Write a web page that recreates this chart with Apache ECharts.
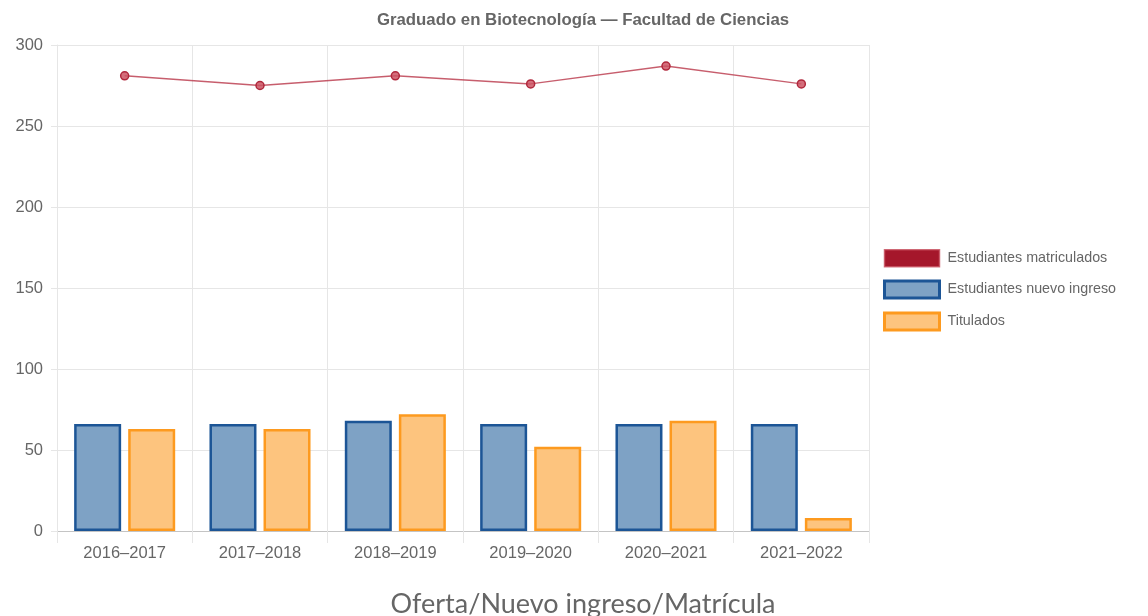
<!DOCTYPE html>
<html>
<head>
<meta charset="utf-8">
<script src="https://cdn.jsdelivr.net/npm/echarts@6/dist/echarts.min.js"></script>
<style>
html,body{margin:0;padding:0;background:#fff;}
#chart{width:1148px;height:616px;}
</style>
</head>
<body>
<div id="chart"></div>
<script>
const categories = ['2016–2017','2017–2018','2018–2019','2019–2020','2020–2021','2021–2022'];
const matriculados = [281, 275, 281, 276, 287, 276];
const nuevoIngreso = [66, 66, 68, 66, 66, 66];
const titulados = [63, 63, 72, 52, 68, 8];
const yTicks = [0, 50, 100, 150, 200, 250, 300];
const seriesNames = ['Estudiantes matriculados','Estudiantes nuevo ingreso','Titulados'];
const titleText = 'Graduado en Biotecnología — Facultad de Ciencias';
const footerText = 'Oferta/Nuevo ingreso/Matrícula';

const chart = echarts.init(document.getElementById('chart'), null, {renderer:'canvas'});
const txt = '#666';
const gridC = '#e6e6e6';
const ff = 'Liberation Sans, Arial, sans-serif';
chart.setOption({
  animation:false,
  title:{
    text:titleText,
    left:583, top:12, textAlign:'center', padding:0,
    textStyle:{fontFamily:ff, fontSize:16.8, fontWeight:'bold', color:txt}
  },
  graphic:[{
    type:'text', x:583, y:591,
    style:{text:footerText, font:'27px Lato', fill:'#666', align:'center', textAlign:'center'}
  }],
  legend:{
    orient:'vertical', left:883, top:249, padding:0, itemWidth:55, itemHeight:17, itemGap:12,
    textStyle:{fontFamily:ff, fontSize:14.3, color:txt, padding:[0,0,0,3]},
    data:[
      {name:seriesNames[0], icon:'rect', itemStyle:{color:'#a5172b', borderColor:'rgba(200,80,95,0.8)', borderWidth:1.5}},
      {name:seriesNames[1], icon:'rect', itemStyle:{color:'#7ea2c5', borderColor:'#1c5596', borderWidth:3}},
      {name:seriesNames[2], icon:'rect', itemStyle:{color:'#fdc47e', borderColor:'#fd9a1f', borderWidth:3}}
    ]
  },
  grid:{left:57, right:279, top:45, bottom:85},
  xAxis:{
    type:'category', data:categories, boundaryGap:true,
    axisLine:{show:true, lineStyle:{color:'#c4c4c4', width:1}},
    axisTick:{show:true, length:12, lineStyle:{color:gridC}},
    axisLabel:{fontFamily:ff, fontSize:16.5, color:txt, margin:14},
    splitLine:{show:true, lineStyle:{color:gridC}}
  },
  yAxis:{
    type:'value', min:yTicks[0], max:yTicks[yTicks.length-1], interval:50,
    axisLine:{show:true, lineStyle:{color:gridC}},
    axisTick:{show:true, length:6, lineStyle:{color:gridC}},
    axisLabel:{fontFamily:ff, fontSize:16.5, color:txt, margin:14},
    splitLine:{show:true, lineStyle:{color:gridC}}
  },
  series:[
    {
      name:seriesNames[0], type:'line', data:matriculados, z:5,
      symbol:'circle', symbolSize:8,
      lineStyle:{color:'rgba(180,40,60,0.75)', width:1.5},
      itemStyle:{color:'rgba(205,85,100,0.85)', borderColor:'#b0283c', borderWidth:1.5}
    },
    {
      name:seriesNames[1], type:'bar', data:nuevoIngreso, barWidth:47, barGap:'15%',
      itemStyle:{color:'#7ea2c5', borderColor:'#1c5596', borderWidth:2.5}
    },
    {
      name:seriesNames[2], type:'bar', data:titulados, barWidth:47,
      itemStyle:{color:'#fdc47e', borderColor:'#fd9a1f', borderWidth:2.5}
    }
  ]
});
</script>
</body>
</html>
